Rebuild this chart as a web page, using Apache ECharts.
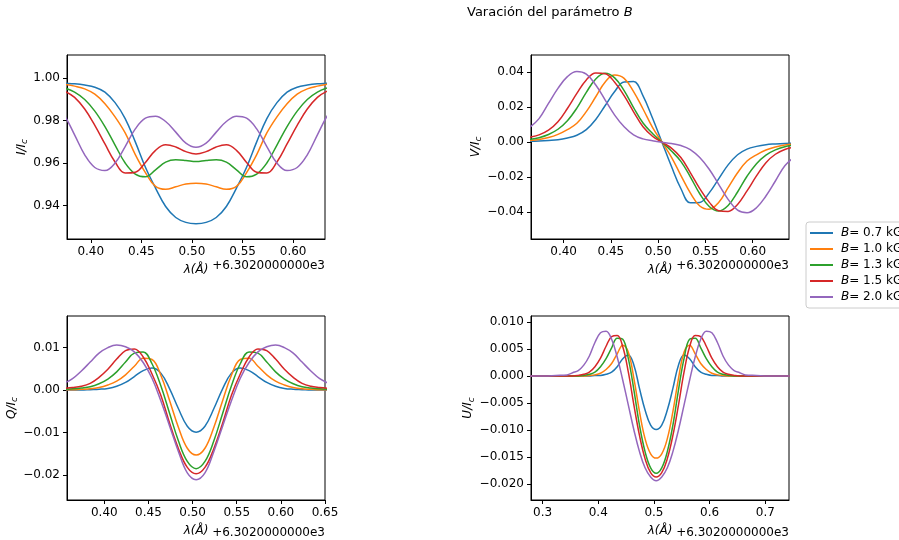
<!DOCTYPE html>
<html>
<head>
<meta charset="utf-8">
<script src="https://cdn.jsdelivr.net/npm/echarts@6/dist/echarts.min.js"></script>
<style>html,body{margin:0;padding:0;background:#fff}#c{width:899px;height:540px}</style>
</head>
<body>
<div id="c"></div>
<script>
// wavelength offsets (Å, relative to 6302.0)
const lam = [0.354,0.364,0.374,0.384,0.394,0.404,0.414,0.424,0.434,0.444,0.454,0.464,0.474,0.484,0.494,0.504,0.514,0.524,0.534,0.544,0.554,0.564,0.574,0.584,0.594,0.604,0.614,0.624,0.634,0.644,0.654];
const lamU = [0.264,0.304,0.324,0.344,0.354,0.364,0.374,0.384,0.394,0.404,0.414,0.424,0.434,0.444,0.454,0.464,0.474,0.484,0.494,0.504,0.514,0.524,0.534,0.544,0.554,0.564,0.574,0.584,0.594,0.604,0.614,0.624,0.634,0.644,0.654,0.664,0.684,0.704,0.744];

const names = ['B= 0.7 kG','B= 1.0 kG','B= 1.3 kG','B= 1.5 kG','B= 2.0 kG'];

// Stokes I / Ic
const I_07 = [0.9982,0.998,0.9977,0.9974,0.9968,0.9958,0.9935,0.9885,0.981,0.970,0.958,0.9482,0.9395,0.9343,0.932,0.9314,0.932,0.9343,0.9395,0.9482,0.958,0.970,0.981,0.9885,0.9935,0.9958,0.9968,0.9974,0.9977,0.998,0.9982];
const I_10 = [0.9982,0.9978,0.9972,0.9963,0.995,0.9925,0.988,0.9818,0.9742,0.964,0.9555,0.949,0.9476,0.9488,0.9501,0.9505,0.9501,0.9488,0.9476,0.949,0.9555,0.964,0.9742,0.9818,0.988,0.9925,0.995,0.9963,0.9972,0.9978,0.9982];
const I_13 = [0.9976,0.9968,0.9955,0.9935,0.99,0.9845,0.9772,0.9685,0.96,0.9548,0.9535,0.9568,0.9604,0.9615,0.9612,0.9607,0.9612,0.9615,0.9604,0.9568,0.9535,0.9548,0.96,0.9685,0.9772,0.9845,0.99,0.9935,0.9955,0.9968,0.9976];
const I_15 = [0.997,0.9958,0.994,0.991,0.9855,0.9778,0.969,0.9605,0.9553,0.9557,0.9603,0.966,0.9686,0.9676,0.9654,0.9643,0.9654,0.9676,0.9686,0.966,0.9603,0.9557,0.9553,0.9605,0.969,0.9778,0.9855,0.991,0.994,0.9958,0.997];
const I_20 = [0.9925,0.9885,0.9825,0.9733,0.9639,0.9579,0.9565,0.96,0.9678,0.9761,0.9812,0.9821,0.9796,0.9746,0.9694,0.9675,0.9694,0.9746,0.9796,0.9821,0.9812,0.9761,0.9678,0.96,0.9565,0.9579,0.9639,0.9733,0.9825,0.9885,0.9925];

// Stokes V / Ic
const V_07 = [0.0004,0.0005,0.0007,0.001,0.0014,0.0024,0.004,0.0072,0.013,0.021,0.029,0.0345,0.0347,0.0265,0.0138,0,-0.0138,-0.0265,-0.0347,-0.0345,-0.029,-0.021,-0.013,-0.0072,-0.004,-0.0024,-0.0014,-0.001,-0.0007,-0.0005,-0.0004];
const V_10 = [0.0007,0.001,0.0016,0.0027,0.0045,0.0072,0.0108,0.0175,0.026,0.0345,0.0384,0.0365,0.029,0.019,0.0085,0,-0.0085,-0.019,-0.029,-0.0365,-0.0384,-0.0345,-0.026,-0.0175,-0.0108,-0.0072,-0.0045,-0.0027,-0.0016,-0.001,-0.0007];
const V_13 = [0.001,0.0016,0.0026,0.0044,0.0074,0.0123,0.0195,0.0285,0.0362,0.0394,0.0368,0.0295,0.0198,0.011,0.005,0,-0.005,-0.011,-0.0198,-0.0295,-0.0368,-0.0394,-0.0362,-0.0285,-0.0195,-0.0123,-0.0074,-0.0044,-0.0026,-0.0016,-0.001];
const V_15 = [0.0018,0.0028,0.0042,0.0069,0.0117,0.0193,0.0279,0.0356,0.0396,0.0392,0.0343,0.0266,0.0174,0.0088,0.0034,0,-0.0034,-0.0088,-0.0174,-0.0266,-0.0343,-0.0392,-0.0396,-0.0356,-0.0279,-0.0193,-0.0117,-0.0069,-0.0042,-0.0028,-0.0018];
const V_20 = [0.005,0.0085,0.0135,0.0222,0.0308,0.0375,0.0404,0.0389,0.0327,0.0241,0.0155,0.0088,0.0042,0.0019,0.0008,0,-0.0008,-0.0019,-0.0042,-0.0088,-0.0155,-0.0241,-0.0327,-0.0389,-0.0404,-0.0375,-0.0308,-0.0222,-0.0135,-0.0085,-0.005];

// Stokes Q / Ic
const Q_07 = [0,0,0,0.0001,0.0002,0.0004,0.0009,0.0018,0.0032,0.0046,0.0052,0.004,0.0003,-0.0044,-0.0085,-0.0099,-0.0085,-0.0044,0.0003,0.004,0.0052,0.0046,0.0032,0.0018,0.0009,0.0004,0.0002,0.0001,0,0,0];
const Q_10 = [0.0001,0.0001,0.0002,0.0003,0.0006,0.0012,0.0021,0.0036,0.0056,0.0075,0.0072,0.0035,-0.0025,-0.0088,-0.0137,-0.0153,-0.0137,-0.0088,-0.0025,0.0035,0.0072,0.0075,0.0056,0.0036,0.0021,0.0012,0.0006,0.0003,0.0002,0.0001,0.0001];
const Q_13 = [0.0002,0.0003,0.0005,0.0008,0.0015,0.0026,0.0043,0.0066,0.0087,0.009,0.0062,0.001,-0.0055,-0.012,-0.0168,-0.0185,-0.0168,-0.012,-0.0055,0.001,0.0062,0.009,0.0087,0.0066,0.0043,0.0026,0.0015,0.0008,0.0005,0.0003,0.0002];
const Q_15 = [0.0004,0.0006,0.0009,0.0016,0.003,0.0049,0.0073,0.0093,0.0097,0.0078,0.0038,-0.0012,-0.0078,-0.0138,-0.0182,-0.0197,-0.0182,-0.0138,-0.0078,-0.0012,0.0038,0.0078,0.0097,0.0093,0.0073,0.0049,0.003,0.0016,0.0009,0.0006,0.0004];
const Q_20 = [0.0016,0.0027,0.0045,0.0066,0.0087,0.01,0.0106,0.0102,0.009,0.0065,0.0028,-0.0025,-0.0085,-0.0145,-0.0195,-0.0211,-0.0195,-0.0145,-0.0085,-0.0025,0.0028,0.0065,0.009,0.0102,0.0106,0.01,0.0087,0.0066,0.0045,0.0027,0.0016];

// Stokes U / Ic
const U_07 = [0,0,0,0,0,0,0,0,0.0001,0.0001,0.0003,0.0007,0.0017,0.0032,0.0039,0.002,-0.0023,-0.0063,-0.0091,-0.0099,-0.0091,-0.0063,-0.0023,0.002,0.0039,0.0032,0.0017,0.0007,0.0003,0.0001,0.0001,0,0,0,0,0,0,0,0];
const U_10 = [0,0,0,0,0,0,0,0.0001,0.0002,0.0005,0.0012,0.0023,0.0041,0.0057,0.0044,-0.0005,-0.0066,-0.0116,-0.0144,-0.0152,-0.0144,-0.0116,-0.0066,-0.0005,0.0044,0.0057,0.0041,0.0023,0.0012,0.0005,0.0002,0.0001,0,0,0,0,0,0,0];
const U_13 = [0,0,0,0,0,0,0.0001,0.0003,0.0007,0.0017,0.0032,0.0052,0.007,0.0068,0.0032,-0.0026,-0.0091,-0.014,-0.017,-0.018,-0.017,-0.014,-0.0091,-0.0026,0.0032,0.0068,0.007,0.0052,0.0032,0.0017,0.0007,0.0003,0.0001,0,0,0,0,0,0];
const U_15 = [0,0,0,0,0,0.0001,0.0003,0.0007,0.0017,0.0033,0.0055,0.0073,0.0075,0.0054,0.0007,-0.0054,-0.011,-0.0153,-0.0179,-0.0187,-0.0179,-0.0153,-0.011,-0.0054,0.0007,0.0054,0.0075,0.0073,0.0055,0.0033,0.0017,0.0007,0.0003,0.0001,0,0,0,0,0];
const U_20 = [0,0,0.0001,0.0002,0.0006,0.001,0.002,0.0037,0.0062,0.008,0.0083,0.0068,0.0035,-0.0008,-0.0054,-0.01,-0.014,-0.017,-0.0187,-0.0194,-0.0187,-0.017,-0.014,-0.01,-0.0054,-0.0008,0.0035,0.0068,0.0083,0.008,0.0062,0.0037,0.002,0.001,0.0006,0.0002,0.0001,0,0];

// tick labels
const xTicksI = [0.40,0.45,0.50,0.55,0.60];
const xTicksV = [0.40,0.45,0.50,0.55,0.60];
const xTicksQ = [0.40,0.45,0.50,0.55,0.60,0.65];
const xTicksU = [0.3,0.4,0.5,0.6,0.7];
const yTicksI = [0.94,0.96,0.98,1.00];
const yTicksV = [-0.04,-0.02,0,0.02,0.04];
const yTicksQ = [-0.02,-0.01,0,0.01];
const yTicksU = [-0.020,-0.015,-0.010,-0.005,0,0.005,0.010];

const colors = ['#1f77b4','#ff7f0e','#2ca02c','#d62728','#9467bd'];
const FONT = 'DejaVu Sans';

function fmt(dec){ return v => (v < -1e-12 ? '\u2212' : '') + Math.abs(v).toFixed(dec); }

function xAx(gi, min, max, ticks, dec, gap){
  return {
    type:'value', gridIndex:gi, min:min, max:max,
    axisLine:{show:true, onZero:false, lineStyle:{color:'#000', width:1}},
    axisTick:{show:true, length:4, customValues:ticks, lineStyle:{color:'#000'}},
    axisLabel:{customValues:ticks, formatter:fmt(dec), color:'#000', fontSize:12, fontFamily:FONT, margin:7},
    splitLine:{show:false},
    name:'λ(Å)', nameLocation:'middle', nameGap:gap,
    nameTextStyle:{fontStyle:'italic', fontSize:12, color:'#000', fontFamily:FONT}
  };
}
function yAx(gi, min, max, ticks, dec, letter, gap){
  return {
    type:'value', gridIndex:gi, min:min, max:max,
    axisLine:{show:true, onZero:false, lineStyle:{color:'#000', width:1}},
    axisTick:{show:true, length:4, customValues:ticks, lineStyle:{color:'#000'}},
    axisLabel:{customValues:ticks, formatter:fmt(dec), color:'#000', fontSize:12, fontFamily:FONT, margin:7},
    splitLine:{show:false},
    name:'{i|' + letter + '/I}{s|c}', nameLocation:'middle', nameGap:gap, nameRotate:90,
    nameTextStyle:{color:'#000', fontFamily:FONT, rich:{
      i:{fontStyle:'italic', fontSize:12, fontFamily:FONT, color:'#000'},
      s:{fontStyle:'italic', fontSize:9, fontFamily:FONT, color:'#000', verticalAlign:'bottom', padding:[6,0,0,0]}
    }}
  };
}

const panels = [
  {xs:lam, data:[I_07,I_10,I_13,I_15,I_20]},
  {xs:lam, data:[V_07,V_10,V_13,V_15,V_20]},
  {xs:lam, data:[Q_07,Q_10,Q_13,Q_15,Q_20]},
  {xs:lamU, data:[U_07,U_10,U_13,U_15,U_20]}
];
const series = [];
panels.forEach((p, gi) => {
  p.data.forEach((ys, i) => {
    series.push({
      type:'line', name:names[i], xAxisIndex:gi, yAxisIndex:gi,
      data:p.xs.map((x, j) => [x, ys[j]]),
      showSymbol:false, symbol:'none', smooth:0.4, clip:true,
      lineStyle:{width:1.5, color:colors[i]}, itemStyle:{color:colors[i]},
      emphasis:{disabled:true}
    });
  });
});

const offTxt = '+6.3020000000e3';
const chart = echarts.init(document.getElementById('c'), null, {renderer:'canvas'});
chart.setOption({
  animation:false,
  backgroundColor:'#fff',
  title:{text:'Varación del parámetro {i|B}', left:462, top:1,
    textStyle:{fontSize:13, fontWeight:'normal', color:'#000', fontFamily:FONT,
      rich:{i:{fontStyle:'italic', fontSize:13, color:'#000', fontFamily:FONT}}}},
  grid:[
    {left:67, top:55, width:258, height:184, show:true, borderColor:'#000', borderWidth:1, backgroundColor:'transparent'},
    {left:531, top:55, width:258, height:184, show:true, borderColor:'#000', borderWidth:1, backgroundColor:'transparent'},
    {left:67, top:316, width:258, height:184, show:true, borderColor:'#000', borderWidth:1, backgroundColor:'transparent'},
    {left:531, top:316, width:258, height:184, show:true, borderColor:'#000', borderWidth:1, backgroundColor:'transparent'}
  ],
  xAxis:[
    xAx(0, 0.3765, 0.6315, xTicksI, 2, 25),
    xAx(1, 0.3655, 0.6384, xTicksV, 2, 25),
    xAx(2, 0.3577, 0.6500, xTicksQ, 2, 25),
    xAx(3, 0.2792, 0.7425, xTicksU, 1, 25)
  ],
  yAxis:[
    yAx(0, 0.92415, 1.0110, yTicksI, 2, 'I', 38),
    yAx(1, -0.0554, 0.0499, yTicksV, 2, 'V', 45),
    yAx(2, -0.02588, 0.01745, yTicksQ, 2, 'Q', 47),
    yAx(3, -0.02296, 0.0111, yTicksU, 3, 'U', 53)
  ],
  legend:{
    data:names, orient:'vertical', left:806, top:222, icon:'rect',
    itemWidth:23, itemHeight:2, itemGap:2, selectedMode:false,
    borderColor:'#ccc', borderWidth:1, borderRadius:3, padding:[4,6,4,4],
    backgroundColor:'#fff',
    formatter: n => '{i|B}' + n.substring(1),
    textStyle:{fontSize:12, color:'#000', fontFamily:FONT, lineHeight:14, padding:[0,0,0,3],
      rich:{i:{fontStyle:'italic', fontSize:12, color:'#000', fontFamily:FONT}}}
  },
  graphic:[
    {type:'text', x:325, y:266, style:{text:offTxt, textAlign:'right', textVerticalAlign:'middle', font:'12px "DejaVu Sans"', fill:'#000'}},
    {type:'text', x:789, y:266, style:{text:offTxt, textAlign:'right', textVerticalAlign:'middle', font:'12px "DejaVu Sans"', fill:'#000'}},
    {type:'text', x:325, y:533, style:{text:offTxt, textAlign:'right', textVerticalAlign:'middle', font:'12px "DejaVu Sans"', fill:'#000'}},
    {type:'text', x:789, y:533, style:{text:offTxt, textAlign:'right', textVerticalAlign:'middle', font:'12px "DejaVu Sans"', fill:'#000'}}
  ],
  series:series
});
</script>
</body>
</html>
